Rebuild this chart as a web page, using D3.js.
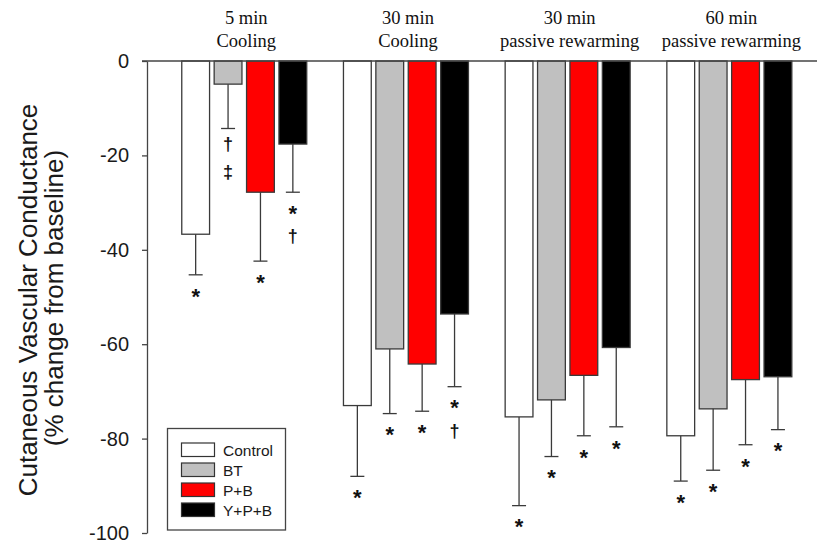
<!DOCTYPE html>
<html lang="en">
<head>
    <meta charset="UTF-8">
    <title></title>
    <style type="text/css">
        html, body { padding:0; margin:0; background:#fff; }
    </style>
</head>
<body>
<script src="https://d3js.org/d3.v7.min.js"></script>
<script type="text/javascript">
    // data
    var groupTime  = ['5 min', '30 min', '30 min', '60 min'];
    var groupPhase = ['Cooling', 'Cooling', 'passive rewarming', 'passive rewarming'];
    var series = ['Control', 'BT', 'P+B', 'Y+P+B'];

    var control    = [-36.7, -73.0, -75.4, -79.4];
    var controlErr = [8.6, 15.0, 18.8, 9.6];
    var bt         = [-4.9, -61.0, -71.8, -73.7];
    var btErr      = [9.4, 13.7, 12.0, 13.0];
    var pb         = [-27.8, -64.2, -66.6, -67.5];
    var pbErr      = [14.6, 10.0, 12.8, 13.8];
    var ypb        = [-17.6, -53.6, -60.7, -66.9];
    var ypbErr     = [10.2, 15.4, 16.8, 11.2];

    var controlSig = [['*'], ['*'], ['*'], ['*']];
    var btSig      = [['\u2020', '\u2021'], ['*'], ['*'], ['*']];
    var pbSig      = [['*'], ['*'], ['*'], ['*']];
    var ypbSig     = [['*', '\u2020'], ['*', '\u2020'], ['*'], ['*']];

    var yTicks = [0, -20, -40, -60, -80, -100];
    var colors = ['#ffffff', '#c0c0c0', '#ff0000', '#000000'];

    var width = 817,
        height = 546,
        axisX = 147;

    var values = [control, bt, pb, ypb],
        errs = [controlErr, btErr, pbErr, ypbErr],
        sigs = [controlSig, btSig, pbSig, ypbSig];

    var svg = d3.select('body').append('svg')
            .attr('width', width)
            .attr('height', height)
            .style('font-family', 'Arial, "Liberation Sans", sans-serif');

    var yScale = d3.scaleLinear().domain([-100, 0]).range([533, 61]);

    var x0 = d3.scaleBand()
            .domain(d3.range(groupTime.length))
            .range([axisX, axisX + 679.6])
            .paddingInner(0.227)
            .paddingOuter(0.215);

    var x1 = d3.scaleBand()
            .domain(series)
            .range([0, x0.bandwidth()])
            .paddingInner(0.142)
            .paddingOuter(0);

    // flat list of bars
    var bars = [];
    groupTime.forEach(function(g, gi) {
        series.forEach(function(s, si) {
            bars.push({
                group: gi, name: s, idx: si,
                value: values[si][gi],
                err: errs[si][gi],
                sig: sigs[si][gi]
            });
        });
    });

    // y axis (plain hyphen for negatives, like the original)
    var yAxis = d3.axisLeft(yScale)
            .tickValues(yTicks)
            .tickFormat(function(d) { return String(d); })
            .tickSize(5)
            .tickSizeOuter(0)
            .tickPadding(13);

    var gy = svg.append('g')
            .attr('class', 'y-axis')
            .attr('transform', 'translate(' + axisX + ',0)')
            .call(yAxis);
    gy.select('.domain').attr('stroke', '#444').attr('stroke-width', 1.3);
    gy.selectAll('.tick line').attr('stroke', '#444').attr('stroke-width', 1.3);
    gy.selectAll('.tick text')
        .attr('fill', '#1a1a1a')
        .style('font-size', '20px')
        .style('font-family', 'Arial, "Liberation Sans", sans-serif');

    // bars
    svg.append('g').selectAll('rect.bar')
        .data(bars)
        .enter()
        .append('rect')
        .attr('class', 'bar')
        .attr('x', function(d) { return x0(d.group) + x1(d.name); })
        .attr('y', yScale(0))
        .attr('width', x1.bandwidth())
        .attr('height', function(d) { return yScale(d.value) - yScale(0); })
        .attr('fill', function(d) { return colors[d.idx]; })
        .attr('stroke', '#3a3a3a')
        .attr('stroke-width', 1.3);

    // error bars
    var eb = svg.append('g').selectAll('g.err')
        .data(bars)
        .enter()
        .append('g')
        .attr('class', 'err')
        .attr('transform', function(d) {
            return 'translate(' + (x0(d.group) + x1(d.name) + x1.bandwidth() / 2) + ',0)';
        });
    eb.append('line')
        .attr('x1', 0).attr('x2', 0)
        .attr('y1', function(d) { return yScale(d.value); })
        .attr('y2', function(d) { return yScale(d.value - d.err); })
        .attr('stroke', '#3a3a3a')
        .attr('stroke-width', 1.3);
    eb.append('line')
        .attr('x1', -7).attr('x2', 7)
        .attr('y1', function(d) { return yScale(d.value - d.err); })
        .attr('y2', function(d) { return yScale(d.value - d.err); })
        .attr('stroke', '#3a3a3a')
        .attr('stroke-width', 1.3);

    // significance marks stacked under each error bar
    eb.each(function(d) {
        var base = yScale(d.value - d.err);
        d3.select(this).selectAll('text.sig')
            .data(d.sig)
            .enter()
            .append('text')
            .attr('class', 'sig')
            .attr('text-anchor', 'middle')
            .attr('x', 0)
            .attr('y', function(s, i) {
                var c = base + 16 + i * 28;
                return s === '*' ? c + 12.8 : c + 6;
            })
            .style('font-size', function(s) { return s === '*' ? '22px' : '18px'; })
            .style('font-weight', 'bold')
            .attr('fill', '#111')
            .text(function(s) { return s; });
    });

    // zero line across the top
    svg.append('line')
        .attr('x1', axisX - 5).attr('x2', width)
        .attr('y1', yScale(0)).attr('y2', yScale(0))
        .attr('stroke', '#444')
        .attr('stroke-width', 1.3);

    // group titles
    var titles = svg.append('g').selectAll('text.title')
        .data(groupTime)
        .enter()
        .append('text')
        .attr('class', 'title')
        .attr('text-anchor', 'middle')
        .attr('transform', function(d, i) {
            return 'translate(' + (x0(i) + x0.bandwidth() / 2 + 2) + ',0)';
        })
        .style('font-family', '"Liberation Serif", "Times New Roman", serif')
        .style('font-size', '18.5px')
        .attr('fill', '#111');
    titles.append('tspan').attr('x', 0).attr('y', 23.5).text(function(d) { return d; });
    titles.append('tspan').attr('x', 0).attr('y', 46.5).text(function(d, i) { return groupPhase[i]; });

    // y label
    var ylab = svg.append('text')
        .attr('transform', 'rotate(-90)')
        .attr('text-anchor', 'middle')
        .style('font-size', '26px')
        .attr('fill', '#1a1a1a');
    ylab.append('tspan').attr('x', -300).attr('y', 37).text('Cutaneous Vascular Conductance');
    ylab.append('tspan').attr('x', -298).attr('y', 63).text('(% change from baseline)');

    // legend
    var legend = svg.append('g').attr('transform', 'translate(167.5,428.5)');
    legend.append('rect')
        .attr('width', 118).attr('height', 101.5)
        .attr('fill', '#fff')
        .attr('stroke', '#444')
        .attr('stroke-width', 1.3);
    var li = legend.selectAll('g.item')
        .data(series)
        .enter()
        .append('g')
        .attr('class', 'item')
        .attr('transform', function(d, i) { return 'translate(14,' + (14.5 + i * 20) + ')'; });
    li.append('rect')
        .attr('width', 33).attr('height', 13.5)
        .attr('fill', function(d, i) { return colors[i]; })
        .attr('stroke', '#333')
        .attr('stroke-width', 1.2);
    li.append('text')
        .attr('x', 41.5).attr('y', 12.5)
        .style('font-size', '15.5px')
        .attr('fill', '#1a1a1a')
        .text(function(d) { return d; });
</script>
</body>
</html>
